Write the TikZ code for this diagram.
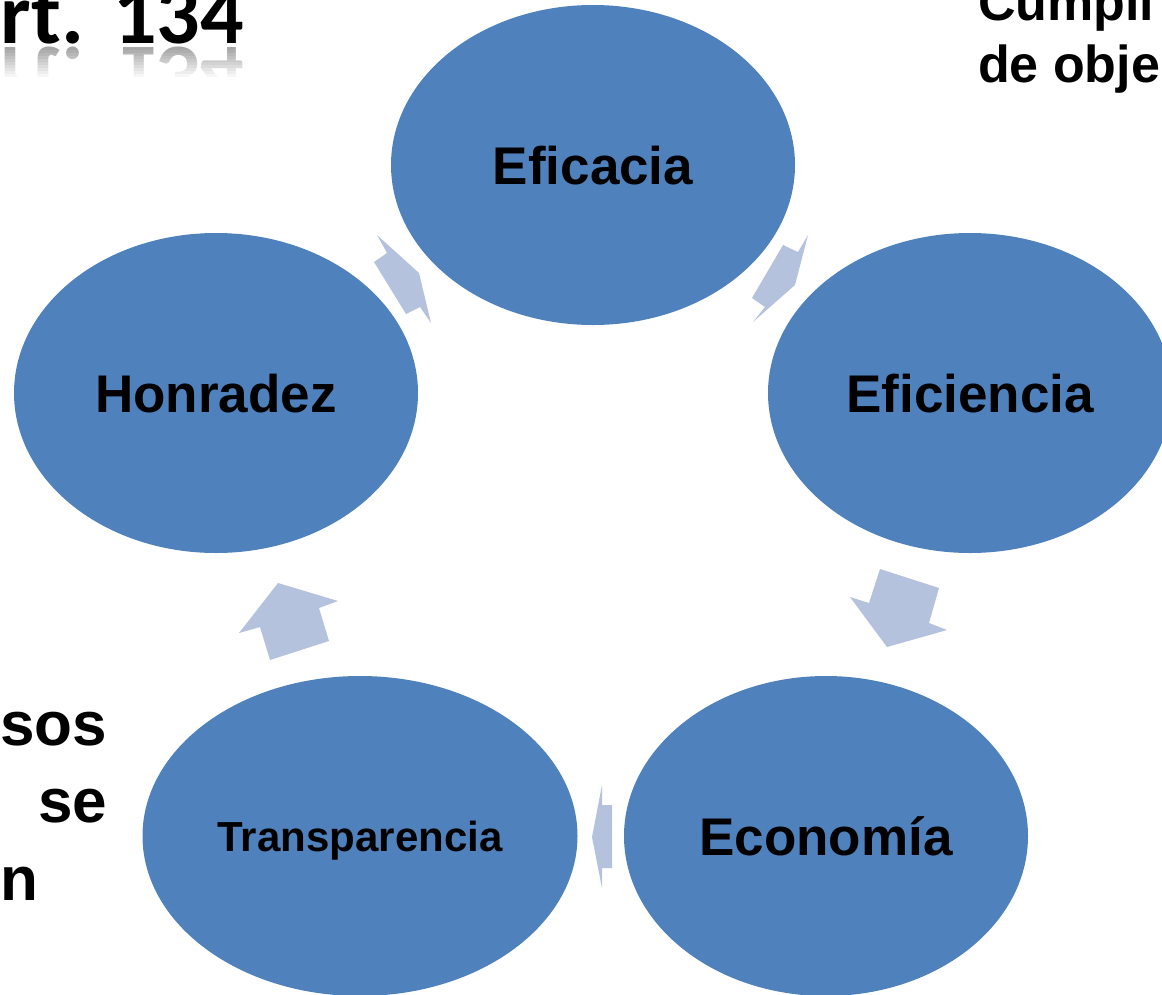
\documentclass[tikz,border=0pt]{standalone}
\usepackage{fontspec}
\setmainfont{Liberation Sans}
\newfontfamily\artfont{Carlito}
\usetikzlibrary{shapes.geometric}
\definecolor{cyblue}{HTML}{4F81BD}
\definecolor{cyarrow}{HTML}{B4C2DD}

\begin{document}
\begin{tikzpicture}[x=1pt, y=-1pt,
  every node/.style={inner sep=0pt, outer sep=0pt},
  phase/.style={ellipse, fill=cyblue, minimum width=404pt, minimum height=320pt,
                font=\fontsize{53}{63}\selectfont\bfseries, text height=38pt, text depth=0pt},
  flow/.style={fill=cyarrow},
  side/.style={font=\fontsize{62}{74}\selectfont\bfseries},
  goal/.style={font=\fontsize{52}{62}\selectfont\bfseries, anchor=base west},
  title/.style={font=\artfont\fontsize{86}{100}\selectfont\bfseries, anchor=base east},
]
  \useasboundingbox (0,0) rectangle (1162,994);
  \clip (0,0) rectangle (1162,994);

  % Title with its mirror
  \node[title] (art) at (244,43) {Art.\kern3pt{} 134};
  \node[title, text=black!35] (artmirror) at (244,47) {\scalebox{1}[-1]{Art.\kern3pt{} 134}};
  \foreach \i in {0,...,10}
    \fill[white, opacity=\i/10] (0,{47+\i*3}) rectangle (262,{50+\i*3});
  \fill[white] (0,80) rectangle (262,140);

  % Cycle
  \node[phase] (efa) at (593,165) {Eficacia};
  \node[phase] (efi) at (970,393) {Eficiencia};
  \node[phase] (eco) at (826,836) {Economía};
  \node[phase, minimum width=435pt, font=\fontsize{42}{50}\selectfont\bfseries, text height=30pt] (tra) at (360,836) {Transparencia};
  \node[phase] (hon) at (216,393) {Honradez};

  % Arrows
  \fill[flow] (783,245) -- (798,252) -- (808,235) -- (795,285) -- (753,322) -- (765,307) -- (752,298) -- cycle;
  \fill[flow] (880,569) -- (939,588) -- (929,623) -- (947,630) -- (887,647) -- (850,597) -- (869,603) -- cycle;
  \fill[flow] (612,805) -- (602,805) -- (602,785) -- (592,837) -- (602,888) -- (602,868) -- (612,868) -- cycle;
  \fill[flow] (278,583) -- (338,601) -- (319,608) -- (329,641) -- (270,660) -- (260,627) -- (239,633) -- cycle;
  \fill[flow] (377,235) -- (419,273) -- (431,323) -- (420,307) -- (406,314) -- (374,262) -- (387,253) -- cycle;

  % Side texts
  \node[goal] (goal1) at (978,20) {Cumpli};
  \node[goal] (goal2) at (978,82) {de obje};
  \node[side, anchor=base east] (sos) at (107,745) {sos};
  \node[side, anchor=base east] (se) at (107,822) {se};
  \node[side, anchor=base west] (n) at (1,900) {n};
\end{tikzpicture}
\end{document}
